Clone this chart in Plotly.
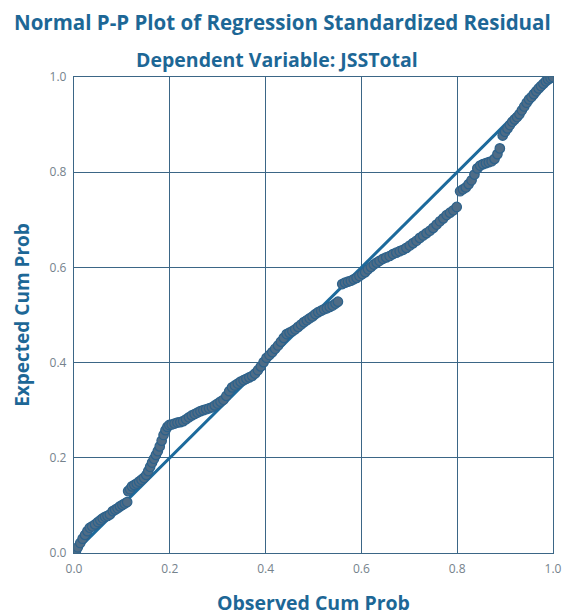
import plotly.graph_objects as go

# Observed vs expected cumulative probabilities of the standardized residuals
observed = [
    0.004, 0.008, 0.013, 0.018, 0.023, 0.028, 0.033, 0.038, 0.044, 0.050, 0.055,
    0.060, 0.065, 0.070, 0.075, 0.081, 0.086, 0.091, 0.096, 0.101, 0.106, 0.111,
    0.113, 0.117, 0.121, 0.126, 0.131, 0.136, 0.141, 0.146, 0.151, 0.155, 0.159,
    0.163, 0.167, 0.171, 0.175, 0.179, 0.183, 0.187, 0.191, 0.195, 0.199,
    0.204, 0.210, 0.216, 0.222, 0.228, 0.234, 0.240, 0.246, 0.252, 0.258, 0.264,
    0.270, 0.276, 0.282, 0.288, 0.294, 0.300, 0.306, 0.312,
    0.318, 0.324, 0.330, 0.336, 0.342, 0.348, 0.354, 0.360, 0.366, 0.372, 0.378,
    0.384, 0.390, 0.396, 0.402, 0.408, 0.414, 0.420, 0.426, 0.432, 0.438, 0.444,
    0.450, 0.456, 0.462, 0.468, 0.474, 0.480, 0.486, 0.492, 0.498, 0.504, 0.510,
    0.516, 0.522, 0.528, 0.534, 0.540, 0.546, 0.551,
    0.560, 0.566, 0.572, 0.578, 0.584, 0.590, 0.596, 0.602, 0.608, 0.614, 0.620,
    0.626, 0.632,
    0.638, 0.645, 0.652, 0.659, 0.666, 0.673, 0.680, 0.687, 0.694, 0.701, 0.708,
    0.715, 0.722, 0.729, 0.736, 0.743, 0.750, 0.757, 0.764, 0.771, 0.778, 0.785,
    0.792, 0.799,
    0.806, 0.812, 0.818, 0.824, 0.830, 0.836, 0.842, 0.848, 0.854, 0.860, 0.866,
    0.872, 0.878, 0.884, 0.889,
    0.895, 0.900, 0.905, 0.910, 0.915, 0.920, 0.925, 0.930, 0.935, 0.940, 0.945,
    0.950, 0.955, 0.960, 0.965, 0.970, 0.975, 0.980, 0.985, 0.990, 0.995, 1.000,
]
expected = [
    0.004, 0.012, 0.021, 0.030, 0.038, 0.046, 0.053, 0.056, 0.060, 0.065, 0.069,
    0.073, 0.076, 0.078, 0.081, 0.088, 0.091, 0.094, 0.098, 0.101, 0.104, 0.107,
    0.130, 0.134, 0.140, 0.143, 0.146, 0.150, 0.154, 0.158, 0.164, 0.172, 0.181,
    0.190, 0.198, 0.206, 0.214, 0.224, 0.236, 0.248, 0.258, 0.265, 0.269,
    0.270, 0.272, 0.274, 0.275, 0.277, 0.281, 0.285, 0.289, 0.292, 0.295, 0.298,
    0.300, 0.302, 0.304, 0.306, 0.310, 0.314, 0.318, 0.322,
    0.330, 0.340, 0.348, 0.352, 0.356, 0.360, 0.363, 0.366, 0.369, 0.372, 0.377,
    0.384, 0.392, 0.401, 0.410, 0.416, 0.422, 0.429, 0.436, 0.444, 0.452, 0.460,
    0.463, 0.466, 0.470, 0.475, 0.480, 0.485, 0.489, 0.493, 0.497, 0.502, 0.506,
    0.509, 0.512, 0.514, 0.517, 0.520, 0.524, 0.528,
    0.565, 0.568, 0.570, 0.572, 0.575, 0.578, 0.582, 0.586, 0.590, 0.596, 0.601,
    0.606, 0.610,
    0.614, 0.618, 0.621, 0.624, 0.628, 0.631, 0.634, 0.637, 0.641, 0.646, 0.651,
    0.656, 0.662, 0.667, 0.672, 0.677, 0.683, 0.690, 0.697, 0.703, 0.710, 0.715,
    0.720, 0.727,
    0.760, 0.764, 0.768, 0.775, 0.783, 0.795, 0.808, 0.814, 0.817, 0.819, 0.821,
    0.823, 0.828, 0.838, 0.850,
    0.877, 0.885, 0.892, 0.899, 0.906, 0.911, 0.916, 0.922, 0.930, 0.938, 0.946,
    0.953, 0.958, 0.964, 0.970, 0.976, 0.981, 0.986, 0.991, 0.995, 0.998, 1.000,
]

# Reference diagonal (perfect normality)
diag_x = [0.0, 1.0]
diag_y = [0.0, 1.0]

tick_vals = [0.0, 0.2, 0.4, 0.6, 0.8, 1.0]
tick_text = ["0.0", "0.2", "0.4", "0.6", "0.8", "1.0"]

title_text = "Normal P-P Plot of Regression Standardized Residual"
subtitle_text = "Dependent Variable: JSSTotal"
x_title = "Observed Cum Prob"
y_title = "Expected Cum Prob"

TITLE_COLOR = "#1d6796"
GRID_COLOR = "#3b6686"
TICK_COLOR = "#75828c"
FONT = "Open Sans, DejaVu Sans, sans-serif"

fig = go.Figure()

fig.add_trace(go.Scatter(
    x=diag_x, y=diag_y, mode="lines",
    line=dict(color="#1c6a9c", width=3),
    hoverinfo="skip", showlegend=False,
))

fig.add_trace(go.Scatter(
    x=observed, y=expected, mode="markers",
    marker=dict(size=9.5, color="#4f6c86",
                line=dict(color="#2c628c", width=1.2)),
    showlegend=False,
))

axis_common = dict(
    range=[0, 1],
    tickvals=tick_vals,
    ticktext=tick_text,
    showgrid=True,
    gridcolor=GRID_COLOR,
    gridwidth=1.3,
    zeroline=False,
    showline=True,
    linecolor=GRID_COLOR,
    linewidth=1.3,
    mirror=True,
    ticks="",
    automargin=False,
    ticklabeloverflow="allow",
    tickfont=dict(family=FONT, size=12, color=TICK_COLOR),
)

fig.update_xaxes(**axis_common, ticklabelstandoff=4)
fig.update_yaxes(**axis_common, ticklabelstandoff=4)

annotations = [
    dict(text=f"<b>{title_text}</b>", x=0.436, y=1.116, xref="paper", yref="paper",
         xanchor="center", yanchor="middle", showarrow=False,
         font=dict(family=FONT, size=20.5, color=TITLE_COLOR)),
    dict(text=f"<b>{subtitle_text}</b>", x=0.424, y=1.036, xref="paper", yref="paper",
         xanchor="center", yanchor="middle", showarrow=False,
         font=dict(family=FONT, size=19.5, color=TITLE_COLOR)),
    dict(text=f"<b>{x_title}</b>", x=0.5, y=-0.105, xref="paper", yref="paper",
         xanchor="center", yanchor="middle", showarrow=False,
         font=dict(family=FONT, size=19.5, color=TITLE_COLOR)),
    dict(text=f"<b>{y_title}</b>", x=-0.109, y=0.5, xref="paper", yref="paper",
         xanchor="center", yanchor="middle", showarrow=False, textangle=-90,
         font=dict(family=FONT, size=19, color=TITLE_COLOR)),
]

fig.update_layout(
    width=566, height=616,
    margin=dict(l=74, r=13, t=77, b=63),
    paper_bgcolor="white",
    plot_bgcolor="white",
    annotations=annotations,
)

fig.write_html("out.html")
